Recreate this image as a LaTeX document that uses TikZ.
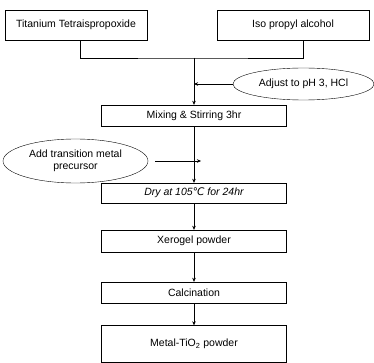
\documentclass[tikz,border=0pt]{standalone}
\usepackage{fontspec}
\setmainfont{Liberation Sans}
\newfontfamily\symfont{DejaVu Sans}
\usepackage{tikz}
\usetikzlibrary{positioning,calc,arrows.meta,shapes.geometric}

\begin{document}
\begin{tikzpicture}[x=1pt, y=-1pt,
    box/.style={draw, thin, inner sep=0pt, minimum width=185pt, minimum height=21pt,
      font=\fontsize{10.5}{12}\selectfont},
    oval/.style={draw, thin, ellipse, inner sep=0pt, align=center,
      font=\fontsize{10.5}{12}\selectfont},
    flow/.style={thin, -{Stealth[length=4pt, width=3.5pt]}}]
  \useasboundingbox (0,0) rectangle (374,363);

  % Starting materials
  \node[box, minimum width=142pt, minimum height=30pt] (ttip) at (76,25) {Titanium Tetraispropoxide};
  \node[box, minimum width=152pt, minimum height=30pt] (ipa) at (293,25) {Iso propyl alcohol};
  \coordinate (join) at (194,58);
  \draw[thin] ([xshift=4pt]ttip.south) |- (join) -| ([xshift=10pt]ipa.south);

  % Main process column
  \node[box] (mix) at (194,115.5) {Mixing \& Stirring 3hr};
  \node[box, minimum height=20pt] (dry) at (194,193) {\itshape Dry at 105{\symfont\itshape ℃} for 24hr};
  \node[box, minimum height=22pt] (xero) at (194,241) {Xerogel powder};
  \node[box] (calc) at (194,292.5) {Calcination};
  \node[box, minimum height=37pt] (metal) at (194,344) {Metal-TiO\textsubscript{2} powder};

  % Additions
  \node[oval, minimum width=141pt, minimum height=32pt] (ph) at (303.5,84) {Adjust to pH 3, HCl};
  \node[oval, minimum width=145pt, minimum height=44pt] (addm) at (75.5,161) {Add transition metal\\precursor};

  % Flow
  \draw[flow] (join) -- (mix.north);
  \draw[flow] (ph.west) -- (ph.west -| join);
  \draw[flow] (mix.south) -- (dry.north);
  \draw[flow] ([xshift=7pt]addm.east) -- ([xshift=7pt]addm.east -| mix.south);
  \draw[flow] (dry.south) -- (xero.north);
  \draw[flow] (xero.south) -- (calc.north);
  \draw[flow] (calc.south) -- (metal.north);
\end{tikzpicture}
\end{document}
